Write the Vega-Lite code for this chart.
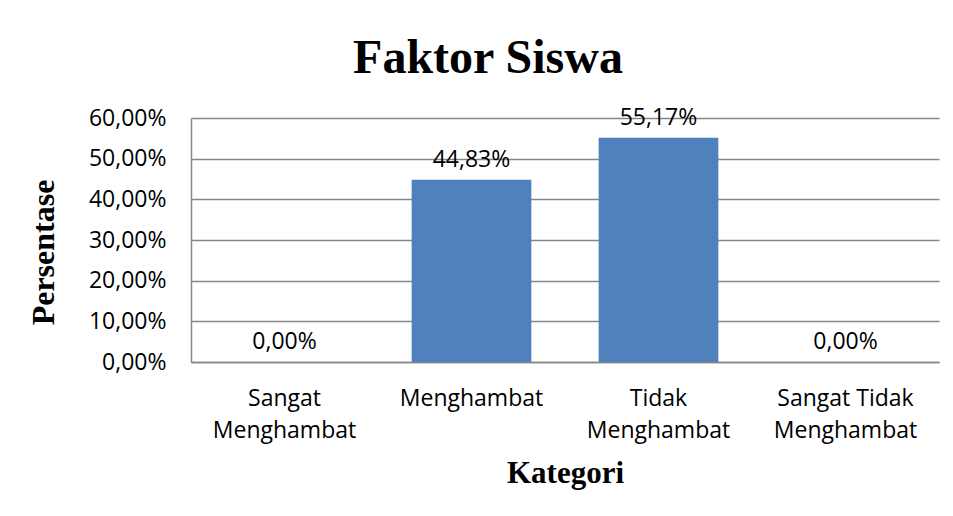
{
  "$schema": "https://vega.github.io/schema/vega-lite/v6.json",
  "width": 748,
  "height": 244,
  "autosize": "none",
  "padding": {"left": 191, "top": 118, "right": 14, "bottom": 154},
  "background": "white",
  "config": {
    "locale": {"number": {"decimal": ",", "thousands": ".", "grouping": [3], "currency": ["", "€"]}},
    "view": {"stroke": null},
    "font": "Open Sans"
  },
  "title": {
    "text": "Faktor Siswa",
    "font": "Liberation Serif",
    "fontSize": 48,
    "fontWeight": "bold",
    "color": "#000000",
    "anchor": "middle",
    "dx": -77,
    "baseline": "alphabetic",
    "offset": -14
  },
  "data": {
    "values": [
      {"kategori": "Sangat Menghambat", "persen": 0.0},
      {"kategori": "Menghambat", "persen": 0.4483},
      {"kategori": "Tidak Menghambat", "persen": 0.5517},
      {"kategori": "Sangat Tidak Menghambat", "persen": 0.0}
    ]
  },
  "encoding": {
    "x": {
      "field": "kategori",
      "type": "nominal",
      "sort": null,
      "scale": {"paddingInner": 0.36, "paddingOuter": 0.18},
      "axis": {
        "title": "Kategori",
        "titleFont": "Liberation Serif",
        "titleFontSize": 31,
        "titleFontWeight": "bold",
        "titleColor": "#000000",
        "titlePadding": 16,
        "labelAngle": 0,
        "labelFont": "Open Sans",
        "labelFontSize": 23,
        "labelColor": "#000000",
        "labelLineHeight": 32,
        "labelPadding": 25,
        "labelExpr": "indexof(datum.label, ' Menghambat') > 0 ? [replace(datum.label, ' Menghambat', ''), 'Menghambat'] : datum.label",
        "ticks": false,
        "domainColor": "#868686",
        "domainWidth": 1.5
      }
    },
    "y": {
      "field": "persen",
      "type": "quantitative",
      "scale": {"domain": [0, 0.6], "nice": false},
      "axis": {
        "title": "Persentase",
        "titleFont": "Liberation Serif",
        "titleFontSize": 32,
        "titleFontWeight": "bold",
        "titleColor": "#000000",
        "titlePadding": 28,
        "titleY": 134,
        "values": [0, 0.1, 0.2, 0.3, 0.4, 0.5, 0.6],
        "format": ".2%",
        "labelFont": "Open Sans",
        "labelFontSize": 23,
        "labelColor": "#000000",
        "labelPadding": 25,
        "ticks": false,
        "grid": true,
        "gridColor": "#868686",
        "gridWidth": 1.5,
        "domainColor": "#868686",
        "domainWidth": 1.5
      }
    }
  },
  "layer": [
    {"mark": {"type": "bar", "color": "#4F81BD"}},
    {
      "mark": {"type": "text", "baseline": "middle", "dy": -20, "fontSize": 23, "font": "Open Sans", "color": "#000000"},
      "encoding": {"text": {"field": "persen", "type": "quantitative", "format": ".2%"}}
    }
  ]
}
